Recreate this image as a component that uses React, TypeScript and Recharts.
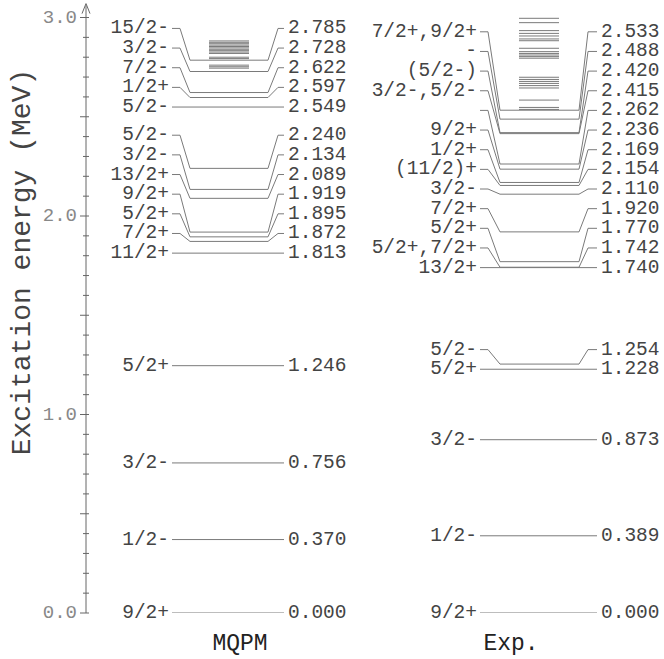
import { LineChart, Line, XAxis, YAxis, ReferenceLine, ReferenceDot } from 'recharts';

// level data (MeV), listed bottom to top
const mqpmSpins = ['9/2+', '1/2-', '3/2-', '5/2+', '11/2+', '7/2+', '5/2+', '9/2+', '13/2+', '3/2-', '5/2-', '5/2-', '1/2+', '7/2-', '3/2-', '15/2-'];
const mqpmEnergies = [0.0, 0.37, 0.756, 1.246, 1.813, 1.872, 1.895, 1.919, 2.089, 2.134, 2.24, 2.549, 2.597, 2.622, 2.728, 2.785];

const expSpins = ['9/2+', '1/2-', '3/2-', '5/2+', '5/2-', '13/2+', '5/2+,7/2+', '5/2+', '7/2+', '3/2-', '(11/2)+', '1/2+', '9/2+', '', '3/2-,5/2-', '(5/2-)', '-', '7/2+,9/2+'];
const expEnergies = [0.0, 0.389, 0.873, 1.228, 1.254, 1.74, 1.742, 1.77, 1.92, 2.11, 2.154, 2.169, 2.236, 2.262, 2.415, 2.42, 2.488, 2.533];

// unlabeled higher levels
const mqpmBand = [2.882, 2.875, 2.868, 2.861, 2.854, 2.847, 2.84, 2.833, 2.826, 2.819, 2.8, 2.793, 2.76, 2.752, 2.745];
const expBand = [2.996, 2.974, 2.934, 2.92, 2.907, 2.892, 2.883, 2.845, 2.828, 2.819, 2.811, 2.803, 2.795, 2.699, 2.688, 2.678, 2.668, 2.657, 2.645, 2.584, 2.547, 2.537];

const columnNames = ['MQPM', 'Exp.'];
const yTicks = Array.from({ length: 31 }, (_, k) => k / 10);

// layout (x in chart units)
const mqpmX = [172, 180, 190, 268, 278, 284];
const expX = [480, 488, 500, 579, 588, 597];
const bandX = [[209, 249], [519, 559]];
const titleX = [240, 511];
const rowGap = 0.099;

const FONT = '"Liberation Mono", "DejaVu Sans Mono", monospace';
const LINE = '#7a7a7a';
const TEXT = '#444';

// push label rows upwards so they don't overlap
function spread(energies: number[]) {
  let prev = -Infinity;
  return energies.map((e) => {
    const r = Math.max(e, prev + rowGap);
    prev = r;
    return r;
  });
}

function buildLevels(name: string, spins: string[], energies: number[], xs: number[]) {
  const rows = spread(energies);
  return energies.map((e, i) => ({
    key: `${name}-${i}`,
    spin: spins[i],
    text: e.toFixed(3),
    points: [
      { x: xs[0], y: rows[i] },
      { x: xs[1], y: rows[i] },
      { x: xs[2], y: e },
      { x: xs[3], y: e },
      { x: xs[4], y: rows[i] },
      { x: xs[5], y: rows[i] },
    ],
  }));
}

const levels = [
  ...buildLevels('mqpm', mqpmSpins, mqpmEnergies, mqpmX),
  ...buildLevels('exp', expSpins, expEnergies, expX),
];

const endLabels = (spin: string, text: string) => (props: any) => {
  const { x, y, index } = props;
  if (index === 0) {
    return (
      <text key='l' x={x - 3} y={y} textAnchor='end' dominantBaseline='central' fontFamily={FONT} fontSize={19.5} fill={TEXT}>
        {spin}
      </text>
    );
  }
  if (index === 5) {
    return (
      <text key='r' x={x + 4} y={y} textAnchor='start' dominantBaseline='central' fontFamily={FONT} fontSize={19.5} fill={TEXT}>
        {text}
      </text>
    );
  }
  return <g key={index} />;
};

const EnergyTick = (props: any) => {
  const { x, y, payload } = props;
  const v = payload.value as number;
  const major = Math.abs(v - Math.round(v)) < 1e-6;
  const half = Math.abs(v * 2 - Math.round(v * 2)) < 1e-6;
  const left = major || half ? 6 : 3;
  return (
    <g>
      <line x1={x - left} x2={x + 3} y1={y} y2={y} stroke='#666' />
      {major && (
        <text x={x - 9} y={y} textAnchor='end' dominantBaseline='central' fontFamily={FONT} fontSize={19} fill='#888'>
          {v.toFixed(1)}
        </text>
      )}
    </g>
  );
};

const ColumnTick = (props: any) => {
  const { x, y, index } = props;
  return (
    <text x={x} y={y + 37} textAnchor='middle' fontFamily={FONT} fontSize={23} fill='#222'>
      {columnNames[index]}
    </text>
  );
};

export default function App() {
  return (
    <div style={{ position: 'absolute', left: 0, top: 0, background: '#fff' }}>
      <LineChart width={664} height={659} margin={{ top: 5.6, right: 0, bottom: 0, left: 0 }}>
        <XAxis
          type='number'
          dataKey='x'
          domain={[86, 664]}
          allowDataOverflow
          ticks={titleX}
          interval={0}
          axisLine={false}
          tickLine={false}
          tickSize={0}
          tickMargin={0}
          height={46}
          tick={<ColumnTick />}
        />
        <YAxis
          type='number'
          domain={[0, 3.06]}
          allowDataOverflow
          ticks={yTicks}
          interval={0}
          width={86}
          tickLine={false}
          tickSize={0}
          tickMargin={0}
          axisLine={{ stroke: '#666' }}
          tick={<EnergyTick />}
          label={() => (
            <text
              x={22}
              y={262}
              transform={`rotate(-90 22 262)`}
              textAnchor='middle'
              dominantBaseline='central'
              fontFamily={FONT}
              fontSize={28}
              fill='#444'
            >
              Excitation energy (MeV)
            </text>
          )}
        />
        <ReferenceDot
          x={86}
          y={3.06}
          r={0}
          ifOverflow='visible'
          shape={(p: any) => (
            <path d={`M${p.cx - 4},${p.cy + 8} L${p.cx},${p.cy - 2} L${p.cx + 4},${p.cy + 8}`} fill='none' stroke='#666' />
          )}
        />
        {mqpmBand.map((e, i) => (
          <ReferenceLine key={`mb-${i}`} segment={[{ x: bandX[0][0], y: e }, { x: bandX[0][1], y: e }]} stroke={LINE} ifOverflow='visible' />
        ))}
        {expBand.map((e, i) => (
          <ReferenceLine key={`eb-${i}`} segment={[{ x: bandX[1][0], y: e }, { x: bandX[1][1], y: e }]} stroke={LINE} ifOverflow='visible' />
        ))}
        {levels.map((lv) => (
          <Line
            key={lv.key}
            data={lv.points}
            dataKey='y'
            type='linear'
            stroke={LINE}
            strokeWidth={1}
            dot={false}
            activeDot={false}
            isAnimationActive={false}
            label={endLabels(lv.spin, lv.text)}
          />
        ))}
      </LineChart>
    </div>
  );
}
